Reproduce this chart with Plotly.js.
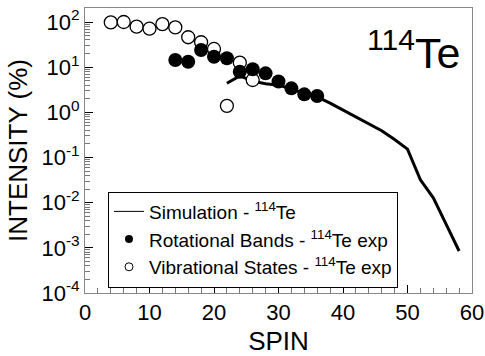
<!DOCTYPE html>
<html>
<head>
<meta charset="utf-8">
<script src="https://cdn.plot.ly/plotly-3.0.1.min.js"></script>
<style>html,body{margin:0;padding:0;background:#fff;}#chart{width:485px;height:356px;}</style>
</head>
<body>
<div id="chart"></div>
<script>
// Simulation (line)
const simSpin = [22, 24, 26, 28, 30, 32, 34, 36, 38, 40, 42, 44, 46, 48, 50, 52, 54, 56, 58];
const simIntensity = [4.4, 6.4, 4.9, 4.3, 4.0, 3.3, 2.6, 2.2, 1.6, 1.13, 0.78, 0.56, 0.39, 0.25, 0.153, 0.032, 0.0128, 0.0033, 0.00085];
// Rotational bands (filled circles)
const rotSpin = [14, 16, 18, 20, 22, 24, 26, 28, 30, 32, 34, 36];
const rotIntensity = [14.4, 13.2, 24, 17, 15.7, 7.9, 9.0, 7.3, 4.8, 3.4, 2.5, 2.3];
// Vibrational states (open circles)
const vibSpin = [4, 6, 8, 10, 12, 14, 16, 18, 20, 22, 24, 26];
const vibIntensity = [98, 100, 79, 71, 90, 76, 46, 35.6, 25.3, 1.39, 12.6, 5.2];
// Axis tick labels
const xTicks = [0, 10, 20, 30, 40, 50, 60];
const yTickVals = [1e-4, 1e-3, 1e-2, 1e-1, 1, 10, 100];
const yTickText = ['10<sup>-4</sup>', '10<sup>-3</sup>', '10<sup>-2</sup>', '10<sup>-1</sup>', '10<sup>0</sup>', '10<sup>1</sup>', '10<sup>2</sup>'];
const legendNames = ['Simulation - <sup>114</sup>Te', 'Rotational Bands - <sup>114</sup>Te exp', 'Vibrational States - <sup>114</sup>Te exp'];

const yMinor = [];
for (let e = -4; e <= 2; e++) { for (let m = 2; m <= 9; m++) { yMinor.push(m * Math.pow(10, e)); } }
const xMinor = [];
for (let v = 0; v <= 60; v += 2) { if (v % 10 !== 0) xMinor.push(v); }

const FONT = 'Liberation Sans, Arial, Helvetica, sans-serif';

const traces = [
  { x: simSpin, y: simIntensity, mode: 'lines', line: {color: '#000', width: 3}, showlegend: false, hoverinfo: 'skip' },
  { x: vibSpin, y: vibIntensity, mode: 'markers', marker: {symbol: 'circle', size: 13, color: '#fff', line: {color: '#000', width: 1.3}}, showlegend: false },
  { x: rotSpin, y: rotIntensity, mode: 'markers', marker: {symbol: 'circle', size: 14, color: '#000', line: {color: '#000', width: 0}}, showlegend: false },
  // legend-only entries
  { x: [null], y: [null], mode: 'lines', line: {color: '#000', width: 1}, name: legendNames[0] },
  { x: [null], y: [null], mode: 'markers', marker: {size: 8, color: '#000'}, name: legendNames[1] },
  { x: [null], y: [null], mode: 'markers', marker: {size: 8, color: '#fff', line: {color: '#000', width: 1}}, name: legendNames[2] }
];

const layout = {
  width: 485, height: 356,
  margin: {l: 85, r: 13, t: 8, b: 63},
  paper_bgcolor: '#fff', plot_bgcolor: '#fff',
  font: {family: FONT, color: '#000'},
  showlegend: true,
  legend: {
    x: 0.0594, y: 0.356, xanchor: 'left', yanchor: 'top',
    bordercolor: '#000', borderwidth: 1, bgcolor: '#fff',
    font: {family: FONT, size: 19, color: '#000'},
    itemwidth: 30, tracegroupgap: 0
  },
  xaxis: {
    range: [0, 60], tickvals: xTicks, ticktext: xTicks.map(String),
    ticks: 'inside', ticklen: 8, tickcolor: '#000', tickwidth: 1,
    showline: true, linecolor: '#888', linewidth: 1, mirror: true,
    showgrid: false, zeroline: false,
    tickfont: {family: FONT, size: 22},
    minor: {tickvals: xMinor, ticks: 'inside', ticklen: 5, tickcolor: '#777', showgrid: false},
    title: {text: 'SPIN', font: {family: FONT, size: 26}, standoff: 8}
  },
  yaxis: {
    type: 'log', range: [-4, 2.31],
    tickvals: yTickVals, ticktext: yTickText,
    ticks: 'inside', ticklen: 8, tickcolor: '#000', tickwidth: 1,
    showline: true, linecolor: '#888', linewidth: 1, mirror: true,
    showgrid: false, zeroline: false,
    tickfont: {family: FONT, size: 22},
    minor: {tickvals: yMinor, ticks: 'inside', ticklen: 5, tickcolor: '#777', showgrid: false},
    title: {text: 'INTENSITY (%)', font: {family: FONT, size: 26}, standoff: 6}
  },
  annotations: [
    {xref: 'paper', yref: 'paper', x: 0.974, y: 0.853, xanchor: 'right', yanchor: 'middle',
     text: '<sup>114</sup>Te', showarrow: false, font: {family: FONT, size: 43, color: '#000'}}
  ]
};

Plotly.newPlot('chart', traces, layout, {displayModeBar: false, staticPlot: true});
</script>
</body>
</html>
